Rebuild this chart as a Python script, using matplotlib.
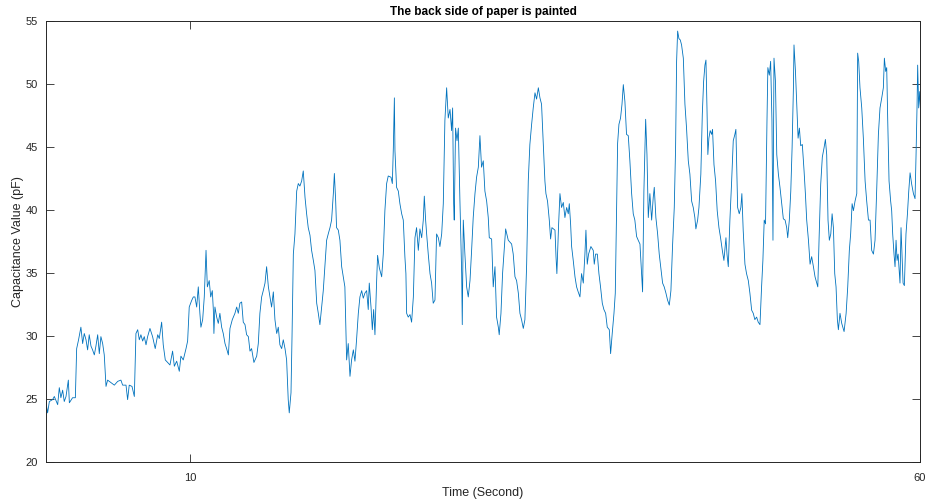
import matplotlib
matplotlib.use("Agg")
import matplotlib.pyplot as plt

# valores (tempo em s, capacitancia em pF)
tempo = [
    0.14, 0.25, 0.37, 0.59, 0.71, 0.94, 1.05, 1.16, 1.28, 1.39, 1.51, 1.67, 1.74, 1.96, 2.15,
    2.24, 2.37, 2.53, 2.65, 2.76, 2.88, 2.99, 3.10, 3.22, 3.33, 3.45, 3.56, 3.68, 3.79, 3.90,
    4.02, 4.13, 4.25, 4.36, 4.59, 4.82, 5.05, 5.27, 5.39, 5.62, 5.73, 5.84, 6.03, 6.19, 6.30,
    6.42, 6.53, 6.64, 6.76, 6.87, 6.99, 7.10, 7.26, 7.44, 7.62, 7.79, 7.90, 8.06, 8.17, 8.31,
    8.47, 8.63, 8.81, 8.93, 9.09, 9.27, 9.38, 9.54, 9.73, 9.84, 9.95, 10.11, 10.23,
    10.34, 10.46, 10.57, 10.68, 10.75, 10.87, 10.98, 11.10, 11.19, 11.32, 11.42, 11.53, 11.60,
    11.64, 11.71, 11.83, 11.94, 12.05, 12.17, 12.28, 12.40, 12.51, 12.63, 12.74, 12.90, 13.08,
    13.20, 13.31, 13.42, 13.54, 13.65, 13.77, 13.88, 14.00, 14.11, 14.22, 14.38, 14.57, 14.68,
    14.79, 14.91, 15.02, 15.14, 15.25, 15.37, 15.48, 15.59, 15.71, 15.82, 15.94, 16.05, 16.16,
    16.28, 16.39, 16.51, 16.62, 16.73, 16.80, 16.92, 16.99, 17.08, 17.19, 17.31, 17.42, 17.53,
    17.65, 17.76, 17.88, 17.99, 18.10, 18.22, 18.33, 18.45, 18.56, 18.68, 18.79, 18.90, 19.02,
    19.13, 19.25, 19.36, 19.47, 19.59, 19.70, 19.82, 19.89, 19.98,
    20.04, 20.16, 20.27, 20.39, 20.50, 20.61, 20.73, 20.84, 20.96, 21.07, 21.19, 21.30, 21.41,
    21.53, 21.64, 21.76, 21.87, 21.98, 22.10, 22.21, 22.28, 22.40, 22.49, 22.58, 22.67, 22.78,
    22.85, 22.97, 23.13, 23.24, 23.35, 23.47, 23.58, 23.77, 23.86, 23.93, 24.00, 24.04, 24.15,
    24.27, 24.38, 24.50, 24.61, 24.72, 24.79, 24.84, 24.95, 25.07, 25.18, 25.30, 25.41, 25.52,
    25.64, 25.75, 25.87, 25.98, 26.05, 26.14, 26.21, 26.32, 26.44, 26.55, 26.66, 26.78, 26.89,
    27.01, 27.12, 27.24, 27.35, 27.46, 27.58, 27.69, 27.81, 27.92, 27.99, 28.06, 28.10, 28.19,
    28.29, 28.38, 28.49, 28.61, 28.65, 28.72, 28.83, 28.95, 29.06, 29.18, 29.29, 29.40, 29.52,
    29.63, 29.75, 29.86, 29.97,
    30.09, 30.20, 30.32, 30.43, 30.50, 30.66, 30.77, 30.89, 31.00, 31.12, 31.18, 31.30, 31.41,
    31.50, 31.62, 31.80, 32.03, 32.14, 32.26, 32.37, 32.49, 32.60, 32.71, 32.83, 32.94, 33.06,
    33.17, 33.28, 33.40, 33.51, 33.63, 33.74, 33.86, 33.97, 34.08, 34.20, 34.31, 34.38, 34.49,
    34.61, 34.70, 34.79, 35.00, 35.07, 35.13, 35.25, 35.34, 35.45, 35.57, 35.68, 35.80, 35.91,
    35.98, 36.07, 36.14, 36.25, 36.37, 36.48, 36.59, 36.71, 36.82, 36.94, 37.05, 37.12, 37.21,
    37.30, 37.46, 37.62, 37.69, 37.78, 37.90, 38.01, 38.12, 38.24, 38.35, 38.47, 38.58, 38.72,
    38.81, 38.92, 39.04, 39.13, 39.22, 39.29, 39.38, 39.49, 39.59, 39.68, 39.79,
    39.90, 40.02, 40.13, 40.25, 40.36, 40.47, 40.59, 40.70, 40.82, 40.93, 41.00, 41.09, 41.21,
    41.30, 41.39, 41.50, 41.62, 41.73, 41.80, 41.91, 42.03, 42.14, 42.26, 42.37, 42.48, 42.60,
    42.71, 42.83, 42.94, 43.05, 43.17, 43.26, 43.33, 43.40, 43.49, 43.58, 43.67, 43.79, 43.90,
    44.01, 44.13, 44.24, 44.36, 44.47, 44.58, 44.65, 44.77, 44.86, 44.99, 45.09, 45.18, 45.27,
    45.34, 45.41, 45.47, 45.54, 45.63, 45.73, 45.79, 45.89, 46.00, 46.11, 46.23, 46.34, 46.46,
    46.57, 46.71, 46.78, 46.87, 46.98, 47.10, 47.21, 47.32, 47.39, 47.51, 47.62, 47.73, 47.80,
    47.89, 48.01, 48.12, 48.24, 48.35, 48.47, 48.58, 48.69, 48.81, 48.92, 49.04, 49.15, 49.24,
    49.33, 49.42, 49.52, 49.58, 49.68, 49.77, 49.86, 49.93,
    50.00, 50.10, 50.19, 50.30, 50.41, 50.53, 50.64, 50.76, 50.87, 50.94, 51.05, 51.15, 51.24,
    51.33, 51.37, 51.47, 51.56, 51.65, 51.74, 51.83, 51.94, 52.06, 52.15, 52.24, 52.36, 52.47,
    52.58, 52.70, 52.81, 52.93, 53.00, 53.09, 53.20, 53.31, 53.43, 53.52, 53.61, 53.70, 53.79,
    53.89, 53.98, 54.07, 54.16, 54.25, 54.34, 54.41, 54.52, 54.64, 54.80, 54.94, 55.05, 55.16,
    55.25, 55.35, 55.44, 55.55, 55.67, 55.73, 55.80, 55.89, 56.01, 56.12, 56.24, 56.35, 56.47,
    56.58, 56.69, 56.81, 56.92, 57.04, 57.15, 57.26, 57.38, 57.49, 57.56, 57.65, 57.72, 57.79,
    57.88, 57.99, 58.06, 58.13, 58.22, 58.29, 58.36, 58.43, 58.50, 58.57, 58.63, 58.70, 58.77,
    58.84, 58.93, 59.04, 59.14, 59.23, 59.32, 59.43, 59.55, 59.66, 59.73, 59.80, 59.84, 59.91,
    59.98, 60.05,
]

capacitancia = [
    24.7, 23.9, 24.8, 24.95, 25.2, 24.55, 25.9, 25.1, 25.7, 24.8, 25.2, 26.5, 24.7, 25.1, 25.1,
    29.0, 29.7, 30.7, 29.4, 30.2, 29.7, 28.9, 30.1, 29.2, 28.9, 28.5, 29.2, 30.1, 28.6, 29.95,
    29.4, 28.5, 26.0, 26.5, 26.3, 26.1, 26.4, 26.5, 26.1, 26.1, 24.95, 26.1, 26.0, 25.2, 30.2,
    30.5, 29.7, 30.1, 29.6, 29.95, 29.3, 29.95, 30.6, 29.95, 29.0, 30.1, 29.8, 31.1, 29.3, 28.1,
    27.9, 27.7, 28.8, 27.6, 28.0, 27.2, 28.4, 28.1, 29.0, 29.6, 32.3, 32.8, 33.1,
    33.1, 32.3, 33.9, 31.8, 30.7, 31.3, 33.1, 36.8, 33.9, 34.4, 33.1, 33.6, 32.1,
    30.2, 32.3, 31.5, 31.0, 31.8, 30.7, 30.2, 29.4, 29.0, 28.5, 30.6, 31.3, 31.8,
    32.3, 31.8, 32.6, 32.7, 31.1, 30.9, 30.1, 29.95, 28.8, 29.0, 27.9, 28.4, 29.4,
    31.8, 33.1, 33.6, 34.2, 35.5, 33.9, 33.1, 32.3, 33.5, 31.3, 30.2, 30.7, 29.3,
    29.0, 29.7, 29.0, 28.1, 24.95, 23.9, 25.5, 29.95, 36.5, 38.1, 41.5, 42.1, 41.9,
    42.3, 43.1, 41.0, 39.7, 38.6, 38.0, 36.8, 36.0, 35.2, 32.6, 31.8, 30.9, 32.3,
    33.6, 35.7, 37.6, 38.1, 38.6, 39.2, 41.3, 42.9, 40.7,
    38.6, 38.4, 37.6, 35.5, 34.7, 33.9, 28.1, 29.4, 26.8, 28.1, 28.9, 28.0, 29.7,
    31.8, 33.1, 33.6, 33.0, 33.4, 33.6, 32.1, 34.2, 32.3, 30.5, 32.1, 30.1, 34.2,
    36.4, 35.4, 34.7, 36.5, 39.95, 42.1, 42.7, 42.6, 42.1, 44.95, 48.9, 44.7, 41.8,
    41.5, 40.5, 39.7, 39.2, 36.3, 34.95, 31.8, 31.5, 31.7, 31.1, 33.1, 37.8, 38.6,
    36.8, 38.5, 37.8, 39.2, 41.1, 39.2, 38.1, 36.5, 34.95, 34.2, 32.6, 32.85, 38.1,
    37.8, 37.1, 38.1, 40.5, 47.1, 49.7, 47.3, 47.98, 46.3, 48.1, 40.5, 39.2, 46.5,
    45.5, 46.5, 40.7, 34.95, 30.9, 39.2, 36.5, 33.9, 33.1, 34.4, 36.8, 39.4, 41.3,
    42.6, 43.4, 45.9, 43.4,
    43.9, 41.5, 40.7, 39.4, 37.8, 37.7, 33.9, 35.5, 31.5, 30.7, 30.1, 31.8, 34.95,
    36.5, 38.5, 37.6, 37.3, 36.5, 34.7, 34.4, 33.4, 31.8, 31.3, 30.6, 31.3, 35.7,
    42.3, 45.2, 46.8, 48.1, 49.3, 48.8, 49.7, 48.9, 48.4, 45.2, 42.3, 41.3, 40.7,
    39.2, 37.7, 38.6, 38.4, 36.3, 34.95, 38.9, 41.3, 40.2, 40.6, 39.4, 40.2, 39.7,
    40.5, 38.9, 37.1, 36.0, 34.7, 33.9, 33.5, 33.1, 34.95, 34.2, 36.5, 38.4, 35.7,
    36.5, 37.1, 36.8, 35.7, 36.5, 36.5, 34.95, 33.9, 32.6, 32.1, 31.8, 30.7, 30.5,
    28.6, 30.2, 31.8, 33.4, 40.2, 45.3, 46.8, 47.3, 48.4, 49.95, 48.6,
    46.0, 45.9, 43.9, 41.3, 39.7, 39.2, 37.9, 37.6, 37.3, 34.95, 33.5, 41.5, 47.2,
    44.4, 39.4, 41.3, 39.2, 41.0, 41.8, 39.4, 38.1, 36.5, 35.3, 34.2, 33.9, 33.4,
    32.85, 32.45, 33.6, 37.1, 40.2, 44.95, 51.8, 54.2, 53.6, 53.5, 53.1, 52.05, 48.4,
    46.5, 43.9, 42.85, 40.7, 40.2, 39.4, 38.5, 39.2, 40.2, 42.85, 47.6, 50.2, 51.5,
    51.9, 48.1, 44.4, 45.7, 46.3, 46.0, 46.4, 43.6, 42.3, 39.95, 38.6, 37.8, 36.8,
    36.0, 37.8, 36.5, 35.5, 39.2, 42.3, 45.5, 46.0, 46.4, 40.2, 39.7, 40.2, 41.3,
    38.4, 35.7, 34.95, 34.4, 33.4, 32.05, 31.8, 31.3, 31.5, 31.1, 30.9, 33.9, 36.0,
    39.2, 38.9, 47.1, 51.3, 50.7, 51.8, 47.1, 37.6,
    52.05, 50.2, 44.4, 42.85, 41.8, 40.5, 39.3, 39.2, 38.6, 37.8, 39.2, 41.5, 44.95,
    49.7, 53.1, 51.0, 48.4, 45.7, 46.5, 45.1, 45.2, 43.1, 41.3, 39.2, 37.6, 35.7,
    36.3, 35.5, 34.7, 34.2, 33.9, 37.8, 42.05, 44.2, 44.95, 45.6, 44.4, 39.2, 37.6,
    38.1, 39.7, 38.6, 34.95, 33.9, 31.3, 30.5, 31.8, 31.0, 30.35, 31.8, 33.9, 36.8,
    38.1, 40.5, 39.95, 40.7, 41.3, 52.45, 51.8, 49.7, 48.1, 45.7, 42.3, 40.7, 39.2,
    39.2, 36.8, 36.5, 37.6, 41.8, 46.0, 48.1, 48.9, 49.7, 52.05, 51.0, 51.3, 47.1,
    42.3, 40.7, 39.95, 38.1, 36.5, 35.5, 37.6, 36.0, 36.5, 35.2, 34.2, 38.6, 36.5,
    34.2, 34.0, 38.1, 39.7, 41.5, 42.95, 42.05, 41.3, 40.9, 44.4, 48.4, 51.5, 48.1,
    49.4, 47.6,
]

y_ticks = [20, 25, 30, 35, 40, 45, 50, 55]
x_ticks = [10, 60]

plt.rcParams['font.family'] = ['Liberation Sans', 'DejaVu Sans']
cor_texto = '#262626'

fig = plt.figure(figsize=(9.28, 4.99), dpi=100)
ax = fig.add_axes([46 / 928, 37 / 499, 874 / 928, 441 / 499])

ax.plot(tempo, capacitancia, color='#0072BD', linewidth=0.6)

ax.set_xlim(tempo[0], 60)
ax.set_ylim(20, 55)
ax.set_xticks(x_ticks)
ax.set_yticks(y_ticks)
ax.tick_params(direction='in', top=True, right=True, length=5.5, width=0.6,
               labelsize=8, colors=cor_texto, pad=6)
ax.tick_params(axis='x', pad=8)
for s in ax.spines.values():
    s.set_linewidth(0.7)
    s.set_color(cor_texto)

ax.set_title('The back side of paper is painted', fontsize=8.5, fontweight='bold',
             color='black', pad=4.5)
ax.set_xlabel('Time (Second)', fontsize=9, color=cor_texto, labelpad=3)
ax.set_ylabel('Capacitance Value (pF)', fontsize=9, color=cor_texto, labelpad=1)

fig.savefig('out.png', dpi=100)
